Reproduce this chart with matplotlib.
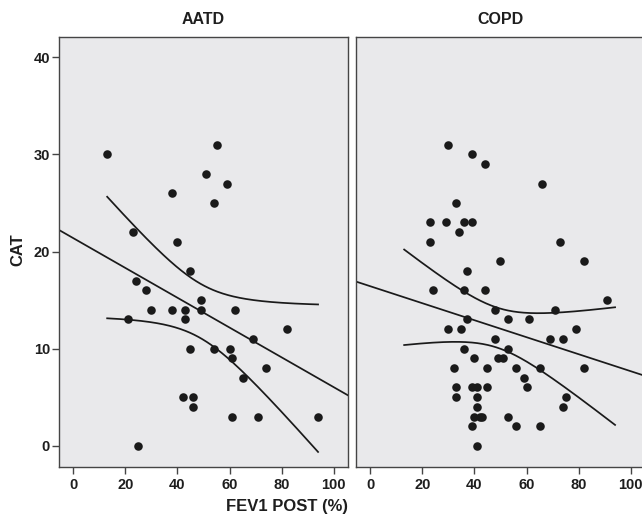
import math
import numpy as np
import matplotlib
matplotlib.use("Agg")
import matplotlib.pyplot as plt
from matplotlib import font_manager

# ---------------- data ----------------
panels = ["AATD", "COPD"]

aatd_fev1 = [13, 55, 51, 59, 38, 54, 23, 40, 45, 24, 28, 21, 30, 38, 43, 43,
             49, 49, 62, 82, 69, 45, 54, 60, 61, 74, 65, 42, 46, 46, 61, 71,
             94, 25]
aatd_cat = [30, 31, 28, 27, 26, 25, 22, 21, 18, 17, 16, 13, 14, 14, 14, 13,
            15, 14, 14, 12, 11, 10, 10, 10, 9, 8, 7, 5, 5, 4, 3, 3,
            3, 0]

copd_fev1 = [30, 39, 44, 66, 33, 23, 29, 36, 39, 34, 23, 73, 50, 82, 37, 24,
             36, 44, 91, 48, 71, 37, 53, 61, 30, 35, 79, 48, 69, 74, 36, 53,
             40, 49, 51, 32, 45, 56, 65, 82, 59, 33, 39, 41, 45, 60, 33, 41,
             75, 41, 74, 40, 42, 43, 53, 39, 56, 65, 41]
copd_cat = [31, 30, 29, 27, 25, 23, 23, 23, 23, 22, 21, 21, 19, 19, 18, 16,
            16, 16, 15, 14, 14, 13, 13, 13, 12, 12, 12, 11, 11, 11, 10, 10,
            9, 9, 9, 8, 8, 8, 8, 8, 7, 6, 6, 6, 6, 6, 5, 5,
            5, 4, 4, 3, 3, 3, 3, 2, 2, 2, 0]

x_ticks = [0, 20, 40, 60, 80, 100]
y_ticks = [0, 10, 20, 30, 40]
x_label = "FEV1 POST (%)"
y_label = "CAT"

# ---------------- helpers ----------------
def t_cdf(t, df):
    c = math.exp(math.lgamma((df + 1) / 2) - math.lgamma(df / 2)) / math.sqrt(df * math.pi)
    xs = np.linspace(0, t, 4001)
    pdf = c * (1 + xs ** 2 / df) ** (-(df + 1) / 2)
    return 0.5 + np.trapezoid(pdf, xs)

def t_ppf(p, df):
    lo, hi = 0.0, 10.0
    for _ in range(60):
        mid = (lo + hi) / 2
        if t_cdf(mid, df) < p:
            lo = mid
        else:
            hi = mid
    return (lo + hi) / 2

# ---------------- fonts ----------------
avail = {f.name for f in font_manager.fontManager.ttflist}
fam = "Liberation Sans Narrow" if "Liberation Sans Narrow" in avail else "Liberation Sans"
plt.rcParams["font.family"] = [fam, "DejaVu Sans"]
plt.rcParams["font.weight"] = "bold"

bg = "#e9e9eb"
ink = "#1a1a1a"
frame = "#454545"
txt = "#1e1e1e"

fig = plt.figure(figsize=(6.42, 5.17), dpi=100)
W, H = 642, 517
left_px = [59, 356]
ax_w = 289
top_px, bot_px = 37, 467

all_x = np.array(aatd_fev1 + copd_fev1, dtype=float)
band_x = np.linspace(all_x.min(), all_x.max(), 200)

data = [(aatd_fev1, aatd_cat), (copd_fev1, copd_cat)]
for i, (name, (xv, yv)) in enumerate(zip(panels, data)):
    ax = fig.add_axes([left_px[i] / W, 1 - bot_px / H, ax_w / W, (bot_px - top_px) / H])
    ax.set_facecolor(bg)
    x = np.array(xv, float)
    y = np.array(yv, float)
    ax.scatter(x, y, s=38, color=ink, zorder=3, linewidths=0)

    b, a = np.polyfit(x, y, 1)
    xl = np.array([-10, 110])
    ax.plot(xl, a + b * xl, color=ink, lw=1.25, zorder=2)

    n = len(x)
    resid = y - (a + b * x)
    s = math.sqrt((resid ** 2).sum() / (n - 2))
    sxx = ((x - x.mean()) ** 2).sum()
    tq = t_ppf(0.975, n - 2)
    yhat = a + b * band_x
    hw = tq * s * np.sqrt(1 / n + (band_x - x.mean()) ** 2 / sxx)
    ax.plot(band_x, yhat + hw, color=ink, lw=1.25, zorder=2)
    ax.plot(band_x, yhat - hw, color=ink, lw=1.25, zorder=2)

    ax.set_xlim(-5.5, 105.5)
    ax.set_ylim(-2.2, 42.1)
    ax.set_xticks(x_ticks)
    ax.set_xticklabels([str(v) for v in x_ticks])
    ax.set_yticks(y_ticks)
    ax.tick_params(axis="both", direction="out", length=5, width=1, color=frame,
                   labelsize=10.5, labelcolor=txt)
    ax.tick_params(axis="x", pad=3)
    ax.tick_params(axis="y", pad=1.5)
    for lab in ax.get_xticklabels() + ax.get_yticklabels():
        lab.set_fontweight("bold")
    if i == 0:
        ax.set_yticklabels([str(v) for v in y_ticks])
    else:
        ax.tick_params(axis="y", left=False, labelleft=False)
    for sp in ax.spines.values():
        sp.set_color(frame)
        sp.set_linewidth(1.0)
    ax.set_title(name, fontsize=11.5, fontweight="bold", color=txt, pad=9)

fig.text(287 / W, 1 - 507 / H, x_label, ha="center", va="center",
         fontsize=12, fontweight="bold", color=txt)
fig.text(18 / W, 1 - 250 / H, y_label, ha="center", va="center", rotation=90,
         fontsize=12, fontweight="bold", color=txt)

fig.savefig("out.png", dpi=100, facecolor="white")
